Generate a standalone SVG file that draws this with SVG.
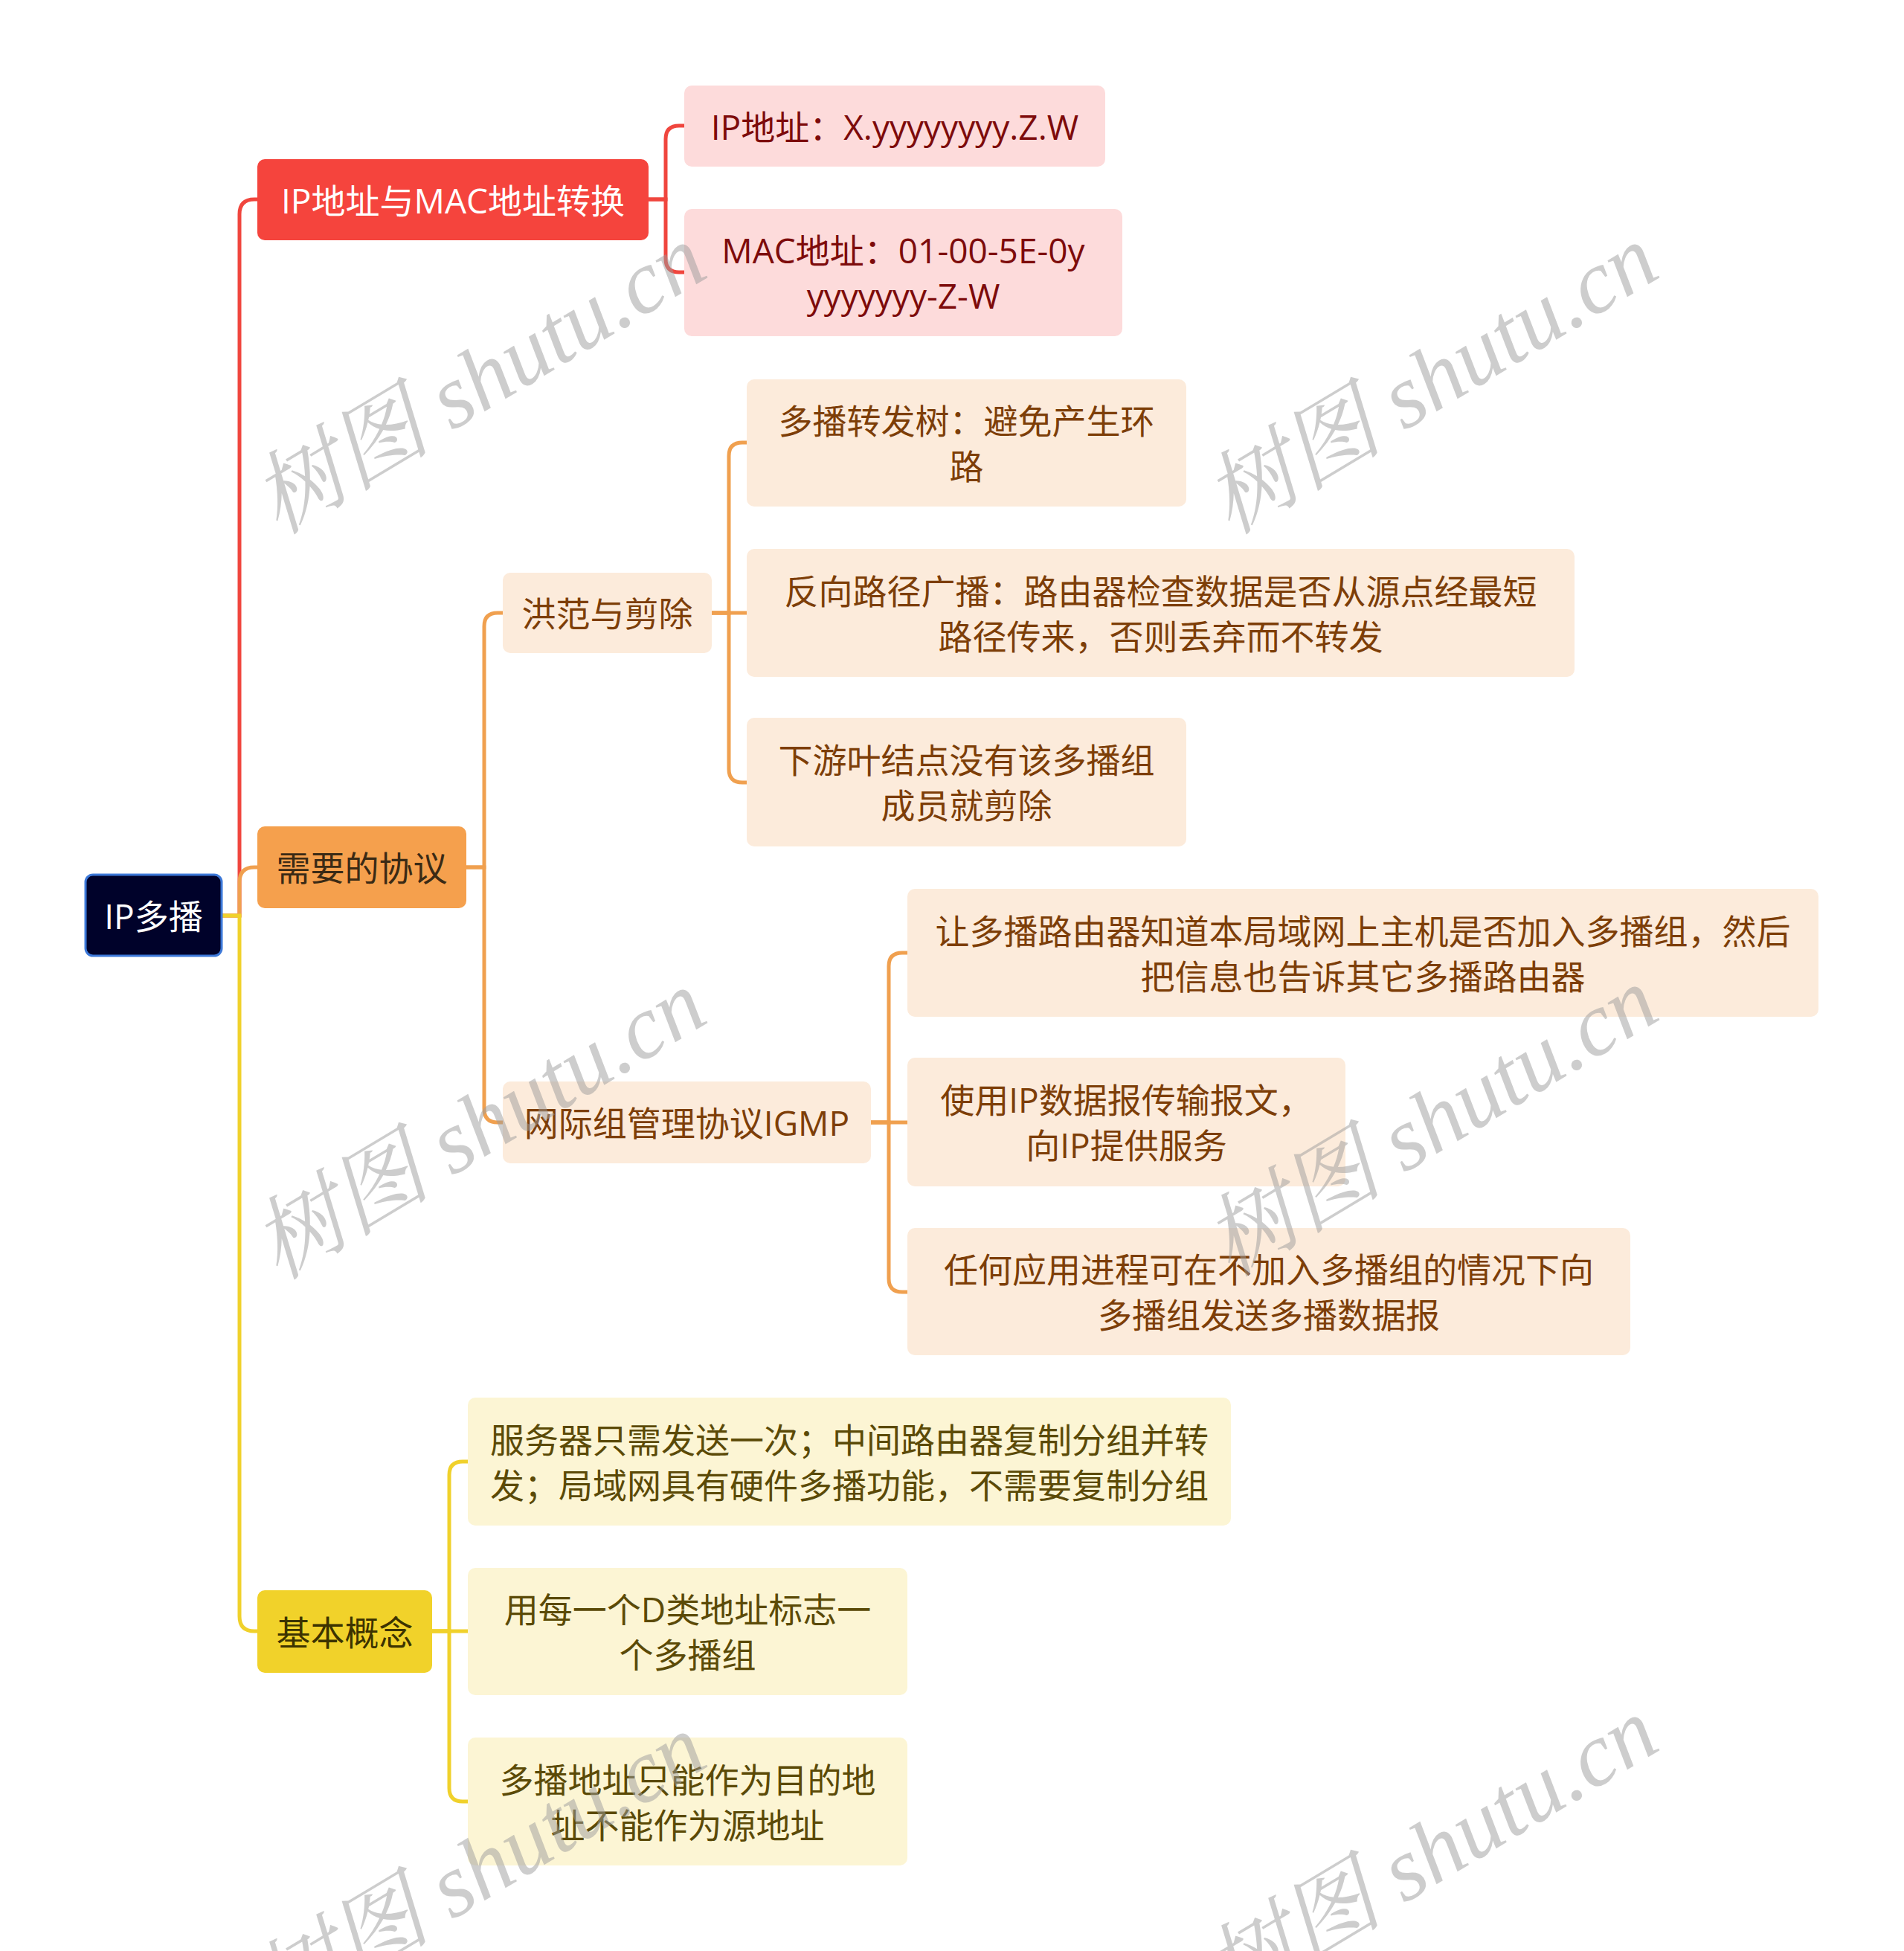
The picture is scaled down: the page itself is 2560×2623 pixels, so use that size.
<svg xmlns="http://www.w3.org/2000/svg" width="2560" height="2623" viewBox="0 0 2560 2623">
<style>
text{font-family:"Open Sans","Noto Sans CJK SC",sans-serif;font-size:46px;text-anchor:middle;dominant-baseline:central}
.c{fill:none;stroke-width:5}
.cr{stroke:#f0463e}.co{stroke:#f0a04f}.cy{stroke:#f0d12b}
.root rect{fill:#00022a;stroke:#3c78d8;stroke-width:3}
.root text{fill:#ffffff}
.r1 rect{fill:#f5443d}.r1 text{fill:#ffffff}
.r2 rect{fill:#fddbdb}.r2 text{fill:#7d0b0b}
.o1 rect{fill:#f5a04d}.o1 text{fill:#3a2a15}
.o2 rect{fill:#fcebdb}.o2 text{fill:#7d3e08}
.y1 rect{fill:#f1d22a}.y1 text{fill:#3c3300}
.y2 rect{fill:#fcf5d4}.y2 text{fill:#5b4a07}
.wm{font-family:"Liberation Serif","Noto Serif CJK SC","Noto Sans CJK SC",serif;font-style:italic;font-size:121px;fill:#9c9c9c;fill-opacity:0.5}
</style>
<g id="connectors">
<path class="c cr" d="M298 1231 H322 V288 Q322 268 342 268 H346"/>
<path class="c co" d="M298 1231 H322 V1186 Q322 1166 342 1166 H346"/>
<path class="c cy" d="M298 1231 H322 V2173 Q322 2193 342 2193 H346"/>
<path class="c cr" d="M872 268 H895 V187 Q895 169 913 169 H920"/>
<path class="c cr" d="M872 268 H895 V348 Q895 366 913 366 H920"/>
<path class="c co" d="M627 1166 H651 V842 Q651 824 669 824 H676"/>
<path class="c co" d="M627 1166 H651 V1491 Q651 1509 669 1509 H676"/>
<path class="c co" d="M957 824 H980 V613 Q980 595 998 595 H1004"/>
<path class="c co" d="M957 824 H1004"/>
<path class="c co" d="M957 824 H980 V1034 Q980 1052 998 1052 H1004"/>
<path class="c co" d="M1171 1509 H1195 V1299 Q1195 1281 1213 1281 H1220"/>
<path class="c co" d="M1171 1509 H1220"/>
<path class="c co" d="M1171 1509 H1195 V1719 Q1195 1737 1213 1737 H1220"/>
<path class="c cy" d="M581 2193 H604 V1983 Q604 1965 622 1965 H629"/>
<path class="c cy" d="M581 2193 H629"/>
<path class="c cy" d="M581 2193 H604 V2404 Q604 2422 622 2422 H629"/>
</g>
<g id="root" class="root"><rect x="115" y="1176" width="183" height="109" rx="10"/><text x="206.5" y="1230.5">IP多播</text></g>
<g id="n1" class="r1"><rect x="346" y="214" width="526" height="109" rx="10"/><text x="609" y="268.5">IP地址与MAC地址转换</text></g>
<g id="n1a" class="r2"><rect x="920" y="115" width="566" height="109" rx="10"/><text x="1203" y="169.5">IP地址：X.yyyyyyyy.Z.W</text></g>
<g id="n1b" class="r2"><rect x="920" y="281" width="589" height="171" rx="10"/><text x="1214.5" y="336">MAC地址：01-00-5E-0y</text><text x="1214.5" y="397">yyyyyyy-Z-W</text></g>
<g id="n2" class="o1"><rect x="346" y="1111" width="281" height="110" rx="10"/><text x="486.5" y="1166">需要的协议</text></g>
<g id="n2a" class="o2"><rect x="676" y="770" width="281" height="108" rx="10"/><text x="816.5" y="824">洪范与剪除</text></g>
<g id="n2a1" class="o2"><rect x="1004" y="510" width="591" height="171" rx="10"/><text x="1299.5" y="565">多播转发树：避免产生环</text><text x="1299.5" y="626">路</text></g>
<g id="n2a2" class="o2"><rect x="1004" y="738" width="1113" height="172" rx="10"/><text x="1560.5" y="793.5">反向路径广播：路由器检查数据是否从源点经最短</text><text x="1560.5" y="854.5">路径传来，否则丢弃而不转发</text></g>
<g id="n2a3" class="o2"><rect x="1004" y="965" width="591" height="173" rx="10"/><text x="1299.5" y="1021">下游叶结点没有该多播组</text><text x="1299.5" y="1082">成员就剪除</text></g>
<g id="n2b" class="o2"><rect x="676" y="1454" width="495" height="110" rx="10"/><text x="923.5" y="1509">网际组管理协议IGMP</text></g>
<g id="n2b1" class="o2"><rect x="1220" y="1195" width="1225" height="172" rx="10"/><text x="1832.5" y="1250.5">让多播路由器知道本局域网上主机是否加入多播组，然后</text><text x="1832.5" y="1311.5">把信息也告诉其它多播路由器</text></g>
<g id="n2b2" class="o2"><rect x="1220" y="1422" width="589" height="173" rx="10"/><text x="1514.5" y="1478">使用IP数据报传输报文，</text><text x="1514.5" y="1539">向IP提供服务</text></g>
<g id="n2b3" class="o2"><rect x="1220" y="1651" width="972" height="171" rx="10"/><text x="1706" y="1706">任何应用进程可在不加入多播组的情况下向</text><text x="1706" y="1767">多播组发送多播数据报</text></g>
<g id="n3" class="y1"><rect x="346" y="2138" width="235" height="111" rx="10"/><text x="463.5" y="2193.5">基本概念</text></g>
<g id="n3a" class="y2"><rect x="629" y="1879" width="1026" height="172" rx="10"/><text x="1142" y="1934.5">服务器只需发送一次；中间路由器复制分组并转</text><text x="1142" y="1995.5">发；局域网具有硬件多播功能，不需要复制分组</text></g>
<g id="n3b" class="y2"><rect x="629" y="2108" width="591" height="171" rx="10"/><text x="924.5" y="2163">用每一个D类地址标志一</text><text x="924.5" y="2224">个多播组</text></g>
<g id="n3c" class="y2"><rect x="629" y="2336" width="591" height="172" rx="10"/><text x="924.5" y="2391.5">多播地址只能作为目的地</text><text x="924.5" y="2452.5">址不能作为源地址</text></g>
<g id="watermarks">
<text class="wm" transform="translate(644 510) rotate(-31)">树图 shutu.cn</text>
<text class="wm" transform="translate(1924 510) rotate(-31)">树图 shutu.cn</text>
<text class="wm" transform="translate(644 1512) rotate(-31)">树图 shutu.cn</text>
<text class="wm" transform="translate(1924 1508) rotate(-31)">树图 shutu.cn</text>
<text class="wm" transform="translate(644 2512) rotate(-31)">树图 shutu.cn</text>
<text class="wm" transform="translate(1924 2490) rotate(-31)">树图 shutu.cn</text>
</g>
</svg>
